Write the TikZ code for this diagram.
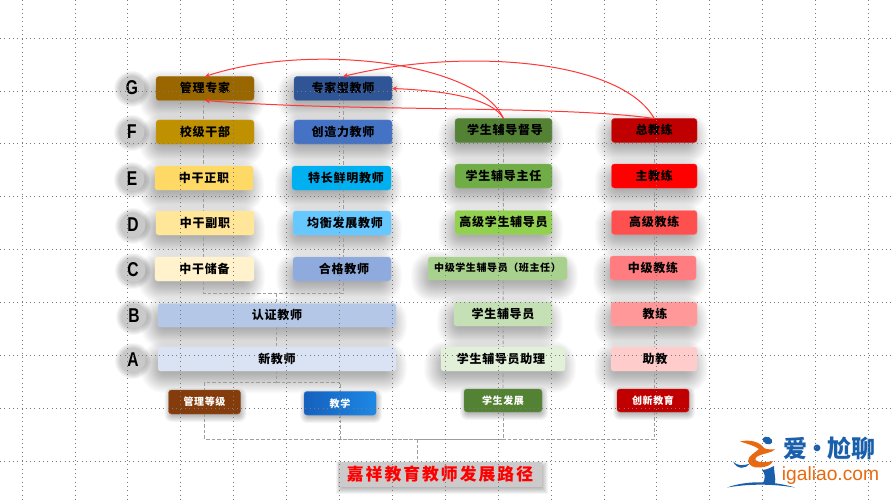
\documentclass[tikz,border=0pt]{standalone}
\usepackage{fontspec}
\newfontfamily\cjk{Noto Sans CJK SC}[LetterSpace=6]
\newfontfamily\cjkwide{Noto Sans CJK SC}[LetterSpace=12]
\newfontfamily\cjkplain{Noto Sans CJK SC}
\newfontfamily\latinf{Liberation Sans}
\usetikzlibrary{arrows.meta,calc}
\pgfdeclarelayer{sh}\pgfdeclarelayer{dsh}\pgfdeclarelayer{gr}\pgfdeclarelayer{top}
\pgfsetlayers{sh,dsh,main,gr,top}
\definecolor{logoblue}{HTML}{1A5FAB}
\definecolor{logoorange}{HTML}{E8690F}
\definecolor{jxleft}{HTML}{1560BD}
\definecolor{jxright}{HTML}{1E88E5}
\tikzset{
  boxnode/.style={rounded corners=3pt,inner sep=0pt,outer sep=0pt,font=\bfseries\cjk\fontsize{12}{13}\selectfont},
  smallbox/.style={boxnode,font=\bfseries\cjk\fontsize{10}{11}\selectfont},
  gridline/.style={draw=black!52,line width=.7pt,dash pattern=on .7pt off 3.6pt},
  trunk/.style={draw=black!38,line width=.9pt,dash pattern=on 3.5pt off 2pt},
  redarrow/.style={draw=red!78!white,line width=1pt,-{Stealth[length=5pt,width=5pt]}},
  lettercircle/.style={circle,fill=black!21,minimum size=25pt,inner sep=0pt,outer sep=0pt},
  extrabox/.style={}
}
% name, x1, y1, x2, y2, hex colour, text colour, text dx, text
\newcommand{\bx}[9]{%
  \definecolor{c#1}{HTML}{#6}%
  \pgfmathsetmacro{\cxx}{(#2+#4)/2}\pgfmathsetmacro{\cyy}{(#3+#5)/2}%
  \pgfmathsetmacro{\wdd}{#4-#2}\pgfmathsetmacro{\htt}{#5-#3}%
  \begin{pgfonlayer}{sh}
  \foreach \k in {-8,...,14}{\pgfmathsetmacro{\rad}{1+(\k+8)*.95}\fill[black,opacity=.017,rounded corners=\rad pt] (#2-3-\k,#3+8-\k) rectangle (#4-3+\k,#5+8+\k);}
  \end{pgfonlayer}
  \node[boxnode,fill=c#1,draw=c#1!85!white,line width=.4pt,text=#7,minimum width=\wdd pt,minimum height=\htt pt] (#1) at (\cxx,\cyy) {\makebox[0pt][c]{\kern #8pt\raisebox{2pt}{#9}}};
}
% small shadow variant
\newcommand{\sbx}[9]{%
  \definecolor{c#1}{HTML}{#6}%
  \pgfmathsetmacro{\cxx}{(#2+#4)/2}\pgfmathsetmacro{\cyy}{(#3+#5)/2}%
  \pgfmathsetmacro{\wdd}{#4-#2}\pgfmathsetmacro{\htt}{#5-#3}%
  \begin{pgfonlayer}{sh}
  \foreach \k in {-2,...,5}{\pgfmathsetmacro{\rad}{1+(\k+2)*.9}\fill[black,opacity=.04,rounded corners=\rad pt] (#2+1-\k,#3+3-\k) rectangle (#4+1+\k,#5+3+\k);}
  \end{pgfonlayer}
  \node[smallbox,fill=c#1,draw=c#1!85!white,line width=.4pt,text=#7,extrabox,minimum width=\wdd pt,minimum height=\htt pt] (#1) at (\cxx,\cyy) {\makebox[0pt][c]{\kern #8pt #9}};
}
% name, cx, cy, letter
\newcommand{\lt}[4]{%
  \begin{pgfonlayer}{sh}
  \foreach \k in {0,...,6}{\fill[black,opacity=.035] (#2,#3+1) circle ({12+\k});}
  \end{pgfonlayer}
  \node[lettercircle] (#1) at (#2,#3) {\raisebox{-2pt}{\scalebox{.78}[1]{\latinf\bfseries\fontsize{20}{20}\selectfont #4}}};
}
\begin{document}
\begin{tikzpicture}[x=1pt,y=-1pt]
\useasboundingbox (0,0) rectangle (891,500);
\begin{pgfonlayer}{sh}\fill[white] (0,0) rectangle (891,500);\end{pgfonlayer}

% grid
\begin{pgfonlayer}{gr}
\foreach \i in {0,...,16}{\pgfmathsetmacro{\gx}{22+52.9*\i}\draw[gridline] (\gx,0) -- (\gx,500);}
\foreach \j in {0,...,8}{\pgfmathsetmacro{\gy}{38+52.9*\j}\draw[gridline] (0,\gy) -- (891,\gy);}
\end{pgfonlayer}

% level letters
\lt{lG}{132}{88}{G}
\lt{lF}{132}{132}{F}
\lt{lE}{132}{179}{E}
\lt{lD}{133}{225}{D}
\lt{lC}{133}{270}{C}
\lt{lB}{134}{316}{B}
\lt{lA}{133}{360}{A}

% management column
\bx{gl}{156}{76.5}{254}{100.5}{996600}{black}{0}{管理专家}
\bx{xj}{156}{120}{254}{144}{BF9000}{black}{0}{校级干部}
\bx{zz}{155}{166}{253}{190}{FFD966}{black}{0}{中干正职}
\bx{zf}{156}{211}{254}{235}{FFE699}{black}{0}{中干副职}
\bx{zc}{155}{257}{254}{281}{FFF2CC}{black}{0}{中干储备}
% teaching column
\bx{zj}{294}{76.5}{392}{100.5}{2F5597}{black}{0}{专家型教师}
\bx{cz}{294}{120}{392}{144}{4472C4}{black}{0}{创造力教师}
\bx{tc}{292}{166}{391}{190}{00B0F0}{black}{9}{特长鲜明教师}
\bx{jh}{293}{211}{391}{235}{66C8FF}{black}{6}{均衡发展教师}
\bx{hg}{293}{257}{391}{281}{8FAADC}{black}{4}{合格教师}
\bx{rz}{158}{303.5}{396}{327}{B4C7E7}{black}{0}{认证教师}
\bx{xin}{158}{347}{396}{371}{DAE3F3}{black}{0}{新教师}
% student column
\bx{dd}{455}{118.5}{552}{142.5}{548235}{black}{3}{学生辅导督导}
\bx{zr}{455}{164}{552}{188}{70AD47}{black}{0}{学生辅导主任}
\bx{gx}{455}{210.5}{552}{234.5}{92D050}{black}{0}{高级学生辅导员}
\bx{zx}{428}{257}{567}{280}{A9D18E}{black}{0}{\fontsize{10}{11}\selectfont 中级学生辅导员（班主任）}
\bx{xy}{454}{302}{552}{326}{C5E0B4}{black}{0}{学生辅导员}
\bx{zl}{441}{347}{565}{371}{E2F0D9}{black}{-4}{学生辅导员助理}
% coach column
\bx{zjl}{611.5}{118.5}{697}{142.5}{C00000}{black}{0}{总教练}
\bx{jl1}{611.5}{164}{697}{188}{FF0000}{black}{0}{主教练}
\bx{gj}{611.5}{210.5}{697}{234.5}{FF5050}{black}{0}{高级教练}
\bx{zjj}{610}{256}{696}{280}{FF7C80}{black}{0}{中级教练}
\bx{jl}{611}{302}{697}{326}{FF9999}{black}{2}{教练}
\bx{zhu}{611}{347}{697}{371}{FFCCCC}{black}{2}{助教}
% bottom row
\sbx{gd}{168.5}{390}{240.5}{414}{843C0C}{white}{0}{管理等级}
\tikzset{extrabox/.style={left color=jxleft,right color=jxright}}
\sbx{jx}{304}{391.5}{376}{415}{1B6FD0}{white}{0}{教学}
\tikzset{extrabox/.style={}}
\sbx{fz}{464}{389}{542}{412}{548235}{white}{0}{学生发展}
\sbx{cx}{617}{389}{689}{412}{C00000}{white}{0}{创新教育}

% title
\begin{pgfonlayer}{sh}
\foreach \k in {-2,...,4}{\fill[black,opacity=.045] (338+2-\k,462+3-\k) rectangle (542+2+\k,487+3+\k);}
\end{pgfonlayer}
\definecolor{titlegrey}{HTML}{CDCACB}
\node[fill=titlegrey,text=red,minimum width=204pt,minimum height=25pt,inner sep=0pt,outer sep=0pt,font=\bfseries\cjkwide\fontsize{16.8}{18}\selectfont] (title) at (440,474.5) {嘉祥教育教师发展路径};

% dashed structure
\coordinate (j1) at (276,293);
\coordinate (j2) at (276,382);
\coordinate (j3) at (417,439);
\begin{pgfonlayer}{dsh}
\draw[trunk] ([xshift=-2pt]gl.center) |- (j1);
\draw[trunk] (zj) |- (j1);
\draw[trunk] (j1) -- (rz.center -| j1);
\draw[trunk] (rz.center -| j1) -- (j2);
\draw[trunk] (j2) -| (gd.center);
\draw[trunk] (j2) -| (jx.center);
\draw[trunk] (gd.center) |- (j3);
\draw[trunk] (jx.center) |- (j3);
\draw[trunk] (dd) -- (fz);
\draw[trunk] (fz) |- (j3);
\draw[trunk] (zjl) -- (cx.center -| zjl);
\draw[trunk] (cx.center -| zjl) |- (j3);
\draw[trunk] (j3) -- (j3 |- title.north);
\end{pgfonlayer}

% red arrows
\begin{pgfonlayer}{top}
\draw[redarrow] (dd.north) .. controls (478,62) and (310,42) .. (gl.north);
\draw[redarrow] (zjl.north) .. controls (620,58) and (460,48) .. (zj.north);
\draw[redarrow] (dd.north) .. controls (490,95) and (430,90) .. (zj.east);
\draw[redarrow] (zjl.north) .. controls (560,105) and (350,112) .. (gl.south);
\end{pgfonlayer}

% logo
\fill[logoblue,rotate around={-25:(767.5,440.5)}] (767.5,440.5) ellipse (5 and 3.6);
\fill[logoorange] (740,441.5) .. controls (750,439) and (760,442) .. (764,448) .. controls (767,450) and (771,449) .. (775,449.5) .. controls (771,453) and (765,453) .. (758,456) .. controls (755,458) and (754,460) .. (758,461.5) .. controls (763,463) and (768,462) .. (773,461) .. controls (771,465) and (767,467) .. (760,467.5) .. controls (754,468) and (749,466) .. (748,461) .. controls (748,456) and (756,452) .. (759,449) .. controls (755,446) and (748,444) .. (740,441.5) -- cycle;
\fill[logoblue] (733,461.5) .. controls (737,466) and (743,466) .. (750,463.5) .. controls (746,469) and (737,470) .. (733,461.5) -- cycle;
\fill[logoblue] (762,470) .. controls (766,470) and (770,468) .. (774,466) .. controls (774,473) and (776,479) .. (775,483) -- (763,483) .. controls (765,479) and (766,474) .. (762,470) -- cycle;
\fill[logoblue] (727,487.5) .. controls (745,481) and (770,480) .. (795,487.5) .. controls (770,483.5) and (748,484) .. (727,487.5) -- cycle;
\node[text=logoblue,inner sep=0pt,font=\bfseries\cjkplain\fontsize{24}{24}\selectfont] (logocn) at (829,448) {爱\hspace{-2pt}·\hspace{-2pt}尬聊};
\node[text=logoorange,inner sep=0pt,anchor=base,font=\latinf\fontsize{19.2}{20}\selectfont] (logoen) at (830.5,480) {igaliao.com};
\end{tikzpicture}
\end{document}
